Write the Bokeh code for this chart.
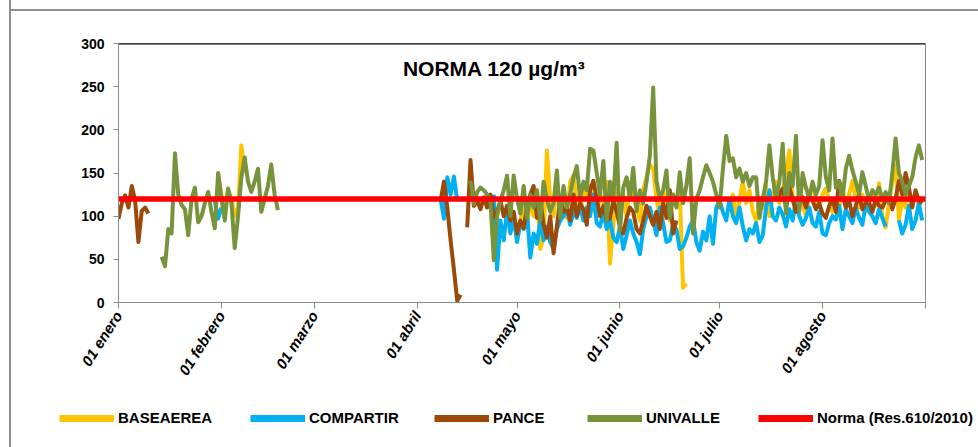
import pandas as pd
import numpy as np
from bokeh.plotting import figure
from bokeh.layouts import column
from bokeh.models import (ColumnDataSource, FixedTicker, Legend, LegendItem, Label,
                          Span, Range1d)
from bokeh.embed import file_html
from bokeh.resources import INLINE

# ---------------- data ----------------
year_start = "2011-01-01"
year_end = "2011-09-01"
month_ticks = ["2011-01-01", "2011-02-01", "2011-03-01", "2011-04-01", "2011-05-01",
               "2011-06-01", "2011-07-01", "2011-08-01", "2011-09-01"]
month_labels = ["01 enero", "01 febrero", "01 marzo", "01 abril", "01 mayo",
                "01 junio", "01 julio", "01 agosto", ""]
y_ticks = [0, 50, 100, 150, 200, 250, 300]
norma_value = 120

# each series: list of (start date, consecutive daily values)
baseaerea = [
    ("2011-01-31", [150, 125, 110, 130, 120, 100, 110, 182, 150]),
    ("2011-05-02", [95, 110, 88, 120, 100, 130, 62, 75, 176, 120,
                    100, 135, 110, 125, 98, 140, 147, 115, 105, 130,
                    120, 135, 110, 100, 125, 115, 140, 45, 90, 130,
                    115, 125, 100, 140, 120, 110, 95, 130, 145, 160,
                    155, 120, 100, 130, 110, 95, 125, 118, 128, 17, 22]),
    ("2011-07-04", [110, 125, 100, 118, 140, 115, 130,
                    105, 95, 120, 110, 135, 100, 125, 140, 115, 130,
                    150, 176, 120, 105, 130, 115, 100, 128, 135, 120, 110,
                    125, 132, 118, 105, 120, 110, 130, 115, 125, 141,
                    120, 110, 125, 105, 118, 130, 112, 138, 100, 87,
                    115, 140, 159, 95, 120, 110, 130, 118, 125, 112, 120]),
]
compartir = [
    ("2011-01-30", [118, 97, 110]),
    ("2011-04-08", [120, 97, 145, 125, 146, 118]),
    ("2011-04-24", [125, 38, 95, 72, 108, 80, 98,
                    70, 92, 85, 105, 52, 80, 68, 95, 72, 88,
                    70, 62, 85, 95, 100, 110, 90, 105, 98, 112,
                    95, 110, 100, 125, 92, 88, 105, 85, 96, 75, 70,
                    88, 62, 78, 95, 80, 70, 56, 85, 100, 110,
                    95, 78, 110, 92, 70, 72, 90, 85, 62, 65,
                    75, 88, 95, 70, 60, 82, 72, 100, 68, 110,
                    118, 105, 95, 120, 100, 92, 110, 88, 72, 85,
                    80, 92, 70, 78, 110, 130, 100, 95, 110, 102,
                    88, 108, 95, 120, 100, 90, 98, 110, 92, 88, 105,
                    80, 78, 92, 100, 96, 112, 85, 108, 100, 92,
                    110, 98, 90, 115, 105, 100, 92, 108, 98, 88]),
    ("2011-08-24", [95, 80, 90, 112, 85, 95, 115, 95]),
]
pance = [
    ("2011-01-01", [97, 115, 124, 110, 135, 118, 70, 106, 110, 103]),
    ("2011-04-08", [118, 140, 110, 72, 38, 2, 9]),
    ("2011-04-16", [87, 165, 112, 118, 108, 122,
                    110, 125, 98, 105, 118, 100, 112, 95, 105,
                    80, 95, 86, 110, 125, 135, 98, 118, 90, 75,
                    100, 57, 88, 120, 105, 110, 95, 125, 100, 115,
                    108, 90, 130, 141, 120, 100, 112, 95, 98, 118, 105,
                    88, 80, 98, 110, 105, 85, 80, 95, 112, 100,
                    90, 105, 85, 115, 98, 130, 80, 95]),
    ("2011-07-18", [118, 125, 132, 110, 133, 120, 105, 115,
                    122, 110, 125, 118, 108, 115, 103, 98, 112, 120,
                    105, 141, 125, 110, 118, 100, 112, 125, 108, 115,
                    116, 105, 120, 112, 110, 118, 125, 108, 120, 141,
                    125, 150, 133, 110, 130, 118, 115]),
]
univalle = [
    ("2011-01-14", [53, 42, 85, 80, 173, 125, 113, 108, 78, 120,
                    133, 93, 100, 115, 128, 105, 86, 150, 120, 95,
                    132, 115, 63, 100, 145, 168, 140, 128, 140, 155,
                    105, 120, 135, 160, 125, 107]),
    ("2011-04-17", [141, 114, 128, 133, 130, 125, 118,
                    49, 100, 118, 130, 147, 100, 147,
                    120, 103, 135, 98, 125, 110, 130, 95, 140, 120,
                    105, 115, 153, 98, 135, 110, 125, 145, 158, 121,
                    140, 130, 178, 176, 150, 125, 164, 95, 140, 120, 185,
                    83, 133, 145, 120, 156, 106, 130, 115, 140, 170,
                    249, 141, 120, 130, 153, 98, 125, 110, 151, 115,
                    135, 167, 80, 120, 130, 145, 159, 150, 140, 125,
                    110, 155, 193, 164, 167, 145, 155, 140, 150, 135,
                    145, 145, 98, 120, 140, 182, 145, 120, 140, 184,
                    103, 150, 135, 193, 106, 150, 133, 120, 140, 125, 135,
                    188, 145, 130, 190, 133, 140, 120, 155, 170, 153,
                    140, 125, 151, 135, 118, 130, 125, 133, 120, 128,
                    115, 150, 190, 150, 140, 125, 135, 145, 168, 182, 165]),
]

series_names = ["BASEAEREA", "COMPARTIR", "PANCE", "UNIVALLE"]
series_data = [baseaerea, compartir, pance, univalle]
series_colors = ["#FFC400", "#00B0F0", "#9C4A0A", "#77933C"]
norma_label = "Norma (Res.610/2010)"
norma_color = "#FF0000"

# ---------------- helpers ----------------
t0 = pd.Timestamp(year_start)
t_end = pd.Timestamp(year_end)
n_days = (t_end - t0).days


def day_of(d):
    return (pd.Timestamp(d) - t0).days


def build_source(segments):
    y = np.full(n_days, np.nan)
    for start, vals in segments:
        s = day_of(start)
        y[s:s + len(vals)] = vals
    return ColumnDataSource(dict(x=np.arange(n_days), y=y))


SANS = "Liberation Sans"
FRAME_GRAY = "#8f8f8f"
GRAD = f"linear-gradient({FRAME_GRAY}, {FRAME_GRAY})"

# ---------------- main chart ----------------
p = figure(width=978, height=400, output_backend="svg", toolbar_location=None,
           x_range=Range1d(0, n_days), y_range=Range1d(0, 300))
p.frame_align = False
p.min_border_left = 118
p.min_border_right = 53
p.min_border_top = 43
p.min_border_bottom = 98
p.background_fill_color = "white"
p.border_fill_color = None
p.styles = {"background": f"{GRAD} 9px 9px / 100% 2px no-repeat, "
                          f"{GRAD} 9px 0px / 2px 100% no-repeat, #ffffff"}
p.outline_line_color = "#8a8a8a"
p.outline_line_width = 1
p.xgrid.grid_line_color = None
p.ygrid.grid_line_color = None

tick_days = [day_of(t) for t in month_ticks]
p.xaxis.ticker = FixedTicker(ticks=tick_days)
p.xaxis.major_label_overrides = {d: lab for d, lab in zip(tick_days, month_labels)}
p.xaxis.major_label_orientation = 1.0
p.xaxis.major_label_text_font = SANS
p.xaxis.major_label_text_font_style = "bold italic"
p.xaxis.major_label_text_font_size = "15px"
p.xaxis.major_label_text_color = "black"
p.xaxis.axis_line_color = "#8a8a8a"
p.xaxis.major_tick_line_color = "#8a8a8a"
p.xaxis.major_tick_in = 0
p.xaxis.major_tick_out = 6
p.xaxis.minor_tick_line_color = None
p.xaxis.major_label_standoff = 4

p.yaxis.ticker = FixedTicker(ticks=y_ticks)
p.yaxis.major_label_text_font = SANS
p.yaxis.major_label_text_font_style = "bold"
p.yaxis.major_label_text_font_size = "14px"
p.yaxis.major_label_text_color = "black"
p.yaxis.axis_line_color = "#8a8a8a"
p.yaxis.major_tick_line_color = "#8a8a8a"
p.yaxis.major_tick_in = 0
p.yaxis.major_tick_out = 5
p.yaxis.minor_tick_line_color = None
p.yaxis.major_label_standoff = 9

for name, segs, color in zip(series_names, series_data, series_colors):
    p.line("x", "y", source=build_source(segs), line_color=color, line_width=4,
           line_join="round")

norma_src = ColumnDataSource(dict(x=[0, n_days], y=[norma_value, norma_value]))
p.line("x", "y", source=norma_src, line_color=norma_color, line_width=5.5)

p.add_layout(Span(location=300, dimension="width", line_color="black", line_width=2))

p.add_layout(Label(x=114, y=271, text="NORMA  120 µg/m³", text_align="center",
                   text_baseline="middle", text_font=SANS, text_font_style="bold",
                   text_font_size="21px", text_color="black"))

# ---------------- legend strip ----------------
lf = figure(width=978, height=47, output_backend="svg", toolbar_location=None,
            x_axis_type=None, y_axis_type=None, x_range=Range1d(0, 1), y_range=Range1d(0, 1))
lf.frame_align = False
lf.min_border_left = 0
lf.min_border_right = 0
lf.min_border_top = 0
lf.min_border_bottom = 0
lf.outline_line_color = None
lf.background_fill_color = None
lf.border_fill_color = None
lf.xgrid.grid_line_color = None
lf.ygrid.grid_line_color = None
lf.styles = {"background": f"{GRAD} 9px 0px / 2px 100% no-repeat, #ffffff"}

legend_names = series_names + [norma_label]
legend_colors = series_colors + [norma_color]
legend_x = [59, 250, 434, 587, 758]   # screen x where each swatch starts
for lx, name, color in zip(legend_x, legend_names, legend_colors):
    # legend proxy: a line with no drawable point, only used for its swatch
    r = lf.line(x=[np.nan], y=[np.nan], line_color=color, line_width=7)
    lg = Legend(items=[LegendItem(label=name, renderers=[r])],
                location=(lx, 21),
                orientation="horizontal", glyph_width=55, glyph_height=16,
                label_height=16, label_standoff=4, padding=0, margin=0, spacing=0,
                border_line_color=None, background_fill_alpha=0,
                label_text_font=SANS, label_text_font_style="bold",
                label_text_font_size="15px", label_text_color="black")
    lf.add_layout(lg)

layout = column(p, lf, spacing=0)
open("out.html", "w").write(file_html(layout, INLINE))
